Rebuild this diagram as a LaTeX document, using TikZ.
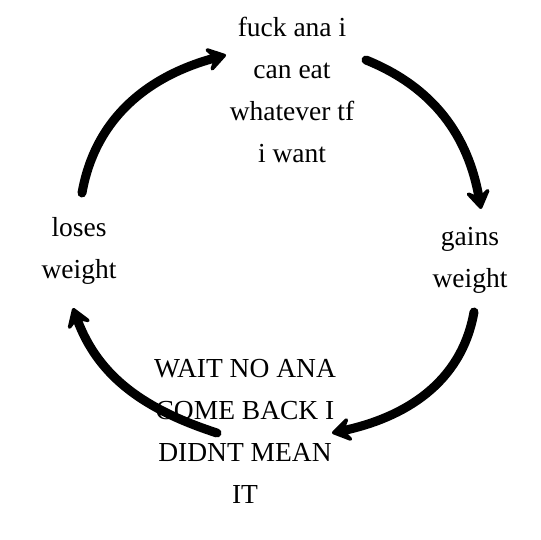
\documentclass[tikz,border=0pt]{standalone}
\usepackage{fontspec}
\setmainfont{Liberation Serif}
\usetikzlibrary{arrows.meta}
\begin{document}
\begin{tikzpicture}[x=1pt,y=-1pt,
  lbl/.style={align=center,inner sep=0pt,anchor=base,font=\fontsize{27.5}{42}\selectfont},
  cyc/.style={line width=9pt,line cap=round,-{Stealth[round,length=24pt,width=31pt,inset=10pt]}}]
\useasboundingbox (0,0) rectangle (540,540);
\fill[white] (0,0) rectangle (540,540);
\node[lbl] (top) at (292,163) {fuck ana i\\can eat\\whatever tf\\i want};
\node[lbl] (left) at (79,278) {loses\\weight};
\node[lbl] (right) at (470,287) {gains\\weight};
\node[lbl] (bot) at (245,503) {WAIT NO ANA\\COME BACK I\\DIDNT MEAN\\IT};
\coordinate (a1) at (82,193);
\coordinate (a2) at (226,55);
\coordinate (b1) at (366,60);
\coordinate (b2) at (481,209);
\coordinate (c1) at (474,312);
\coordinate (c2) at (332,433);
\coordinate (d1) at (217,433);
\coordinate (d2) at (73,308);
\draw[cyc] (a1) to[out=80,in=195] (a2);
\draw[cyc] (b1) to[out=-22,in=100] (b2);
\draw[cyc] (c1) to[out=-100,in=12] (c2);
\draw[cyc] (d1) to[out=162,in=-70] (d2);
\end{tikzpicture}
\end{document}
